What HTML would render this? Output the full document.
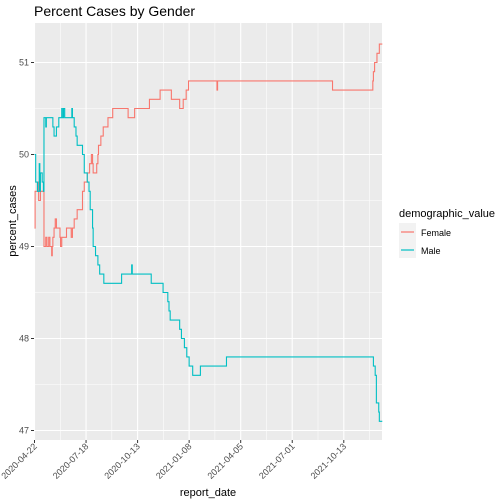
<!DOCTYPE html>
<html><head><meta charset="utf-8"><style>
body{margin:0;background:#fff;}
svg{display:block;font-family:"Liberation Sans",sans-serif;}
</style></head><body>
<svg id="chart" width="504" height="504">
<rect width="504" height="504" fill="#fff"/>
<text x="34" y="16" font-size="14" fill="#000">Percent Cases by Gender</text>
<rect x="34" y="23" width="348" height="417" fill="#ebebeb"/>
<g id="grid"></g>
<g id="series"></g>
<g id="axes"></g>
<text transform="translate(16,221) rotate(-90)" text-anchor="middle" font-size="11" fill="#000">percent_cases</text>
<text x="208" y="496" text-anchor="middle" font-size="11" fill="#000">report_date</text>
<g>
<text x="399" y="217" font-size="11" fill="#000">demographic_value</text>
<rect x="399" y="223" width="17" height="35" fill="#f2f2f2"/>
<line x1="401" x2="414" y1="232" y2="232" stroke="#F8766D" stroke-width="1.2"/>
<line x1="401" x2="414" y1="250" y2="250" stroke="#00BFC4" stroke-width="1.2"/>
<text x="421" y="236" font-size="9" fill="#000">Female</text>
<text x="421" y="254" font-size="9" fill="#000">Male</text>
</g>
</svg>
<script>
// data (days since 2020-04-22, percent)
const femaleDays = [0,1,5,7,10,14,16,19,21,24,26,29,30,31,33,35,37,43,44,46,54,62,64,67,72,81,84,89,93,96,98,99,105,107,108,112,116,124,132,158,169,194,212,231,245,251,256,260,308,309,501,503,569,571,572,574,577,578,582,587];
const femaleVals = [49.2,49.6,49.7,49.5,49.6,49.6,49.0,49.1,49.0,49.1,49.0,48.9,49.0,49.1,49.2,49.3,49.2,49.1,49.0,49.1,49.2,49.1,49.2,49.3,49.4,49.6,49.7,49.8,49.9,50.0,49.9,49.8,49.9,50.0,50.1,50.2,50.3,50.4,50.5,50.4,50.5,50.6,50.7,50.6,50.5,50.6,50.7,50.8,50.7,50.8,50.8,50.7,50.7,50.8,50.9,51.0,51.0,51.1,51.2,51.2];
const maleDays = [0,2,5,8,9,10,13,15,16,19,20,31,33,37,41,46,47,49,51,54,63,64,67,70,72,81,84,89,92,94,98,99,103,107,110,117,144,147,164,165,167,197,217,225,227,229,245,248,253,257,261,267,280,324,572,575,577,581,582,587];
const maleVals = [50.0,49.7,49.6,49.9,49.6,49.8,49.7,49.6,50.4,50.3,50.4,50.3,50.2,50.3,50.4,50.5,50.4,50.5,50.4,50.4,50.5,50.4,50.3,50.2,50.1,50.0,49.8,49.7,49.6,49.4,49.2,49.0,48.9,48.8,48.7,48.6,48.6,48.7,48.8,48.7,48.7,48.6,48.5,48.4,48.3,48.2,48.1,48.0,47.9,47.8,47.7,47.6,47.7,47.8,47.7,47.6,47.3,47.2,47.1,47.1];
const yTicks = [47,48,49,50,51];
const xTickDays = [0,87,174,261,348,435,522];
const xTickLabels = ["2020-04-22","2020-07-18","2020-10-13","2021-01-08","2021-04-05","2021-07-01","2021-10-13"];

const NS="http://www.w3.org/2000/svg";
const X = d => 34.5 + d*0.5925;
const Y = v => 430.5 - (v-47)*92;
function mk(tag, attrs, parent){const e=document.createElementNS(NS,tag);for(const k in attrs)e.setAttribute(k,attrs[k]);parent.appendChild(e);return e;}
const grid=document.getElementById('grid'), axes=document.getElementById('axes'), series=document.getElementById('series');

// minor gridlines
for(let i=0;i<=yTicks.length;i++){
  const v=yTicks[0]-0.5+i;
  const y=Y(v); if(y<23||y>440) continue;
  const l=mk('line',{x1:34,x2:382,y1:y,y2:y,stroke:'#fff','stroke-width':0.55},grid);
  
  
}
for(let i=0;i<xTickDays.length;i++){
  const x=X(xTickDays[i]+43.5); if(x>382) continue;
  const l=mk('line',{x1:x,x2:x,y1:23,y2:440,stroke:'#fff','stroke-width':0.55},grid);
  
  
}
yTicks.forEach(v=>{
  const y=Y(v);
  const l=mk('line',{x1:34,x2:382,y1:y,y2:y,stroke:'#fff','stroke-width':1.1},grid);
  
  
  const t=mk('line',{x1:31,x2:34,y1:y,y2:y,stroke:'#333','stroke-width':1},axes);
  
  
  const tx=mk('text',{x:29,y:y+3,'text-anchor':'end','font-size':9,fill:'#4d4d4d'},axes);
  tx.textContent=v;
  
  
});
xTickDays.forEach((d,i)=>{
  const x=X(d);
  const l=mk('line',{x1:x,x2:x,y1:23,y2:440,stroke:'#fff','stroke-width':1.1},grid);
  
  
  const t=mk('line',{x1:x,x2:x,y1:440,y2:443,stroke:'#333','stroke-width':1},axes);
  
  
  const tx=mk('text',{'text-anchor':'end','font-size':9,fill:'#4d4d4d',transform:`translate(${x+3},${447}) rotate(-45)`},axes);
  tx.textContent=xTickLabels[i];
  
  
});
function stepPath(days,vals){
  let d=`M${X(days[0])},${Y(vals[0])}`;
  for(let i=1;i<days.length;i++){d+=`H${X(days[i])}V${Y(vals[i])}`;}
  return d;
}
const f=mk('path',{d:stepPath(femaleDays,femaleVals),fill:'none',stroke:'#F8766D','stroke-width':1.1},series);


const m=mk('path',{d:stepPath(maleDays,maleVals),fill:'none',stroke:'#00BFC4','stroke-width':1.1},series);


</script>
</body></html>
